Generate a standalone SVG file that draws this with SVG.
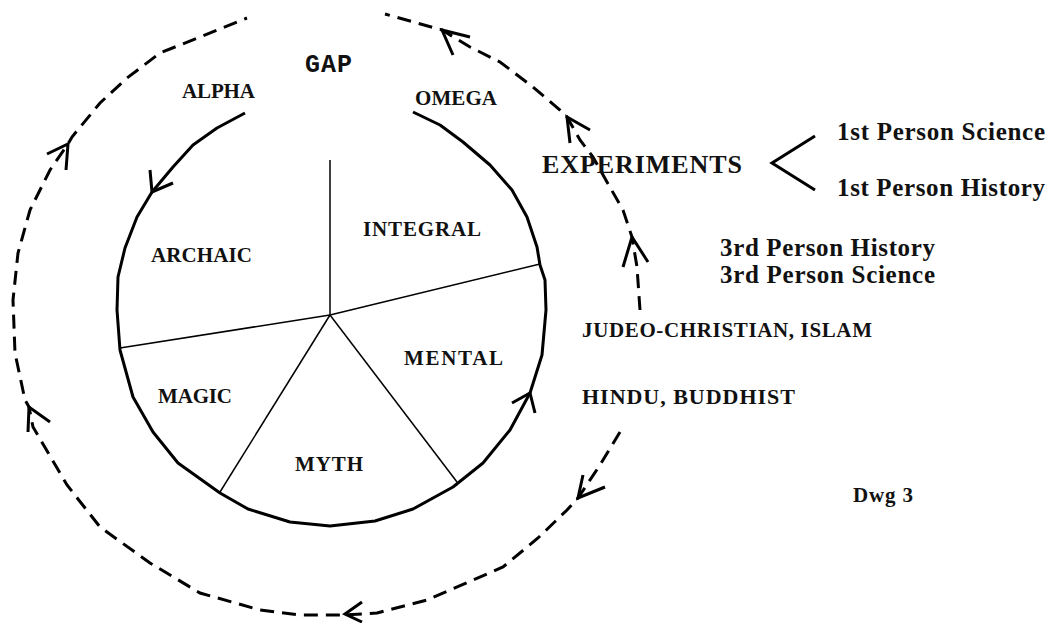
<svg xmlns="http://www.w3.org/2000/svg" width="1050" height="623" viewBox="0 0 1050 623">
<style>
.lbl{font-family:"Liberation Serif","Times New Roman",serif;font-weight:bold;fill:#111;}
.gap{font-family:"Liberation Mono","Courier New",monospace;font-weight:bold;fill:#111;}
.solid{fill:none;stroke:#000;stroke-width:3;stroke-linejoin:round;}
.dash{fill:none;stroke:#000;stroke-width:3;stroke-dasharray:14 8;}
.spoke{fill:none;stroke:#000;stroke-width:1.5;}
.head{fill:none;stroke:#000;stroke-width:3;stroke-linecap:butt;}
</style>
<rect width="1050" height="623" fill="#fff"/>
<g id="connectors">
  <polyline id="inner-cycle" class="solid" points="245,113 217,128 193,145 173,167 152,192 137,217 125,248 118,277 117,310 120,350 133,397 153,432 178,463 220,493 248,509 290,522 330,526 375,521 413,509 453,487 483,463 510,430 530,393 542,355 546,310 545,280 540,265 537,247 527,217 512,190 490,165 463,142 440,125 413,112"/>
  <polyline class="head" points="150,170 152,192 173,183"/>
  <polyline class="head" points="512,403 530,393 535,413"/>
  <polyline id="outer-left" class="dash" points="620,432 600,465 578,498 567,510 538,538 503,567 473,580 427,600 377,613 345,615 300,615 260,610 200,593 150,563 100,527 67,485 33,427 29,407 25,400 15,353 13,300 18,253 30,210 50,170 68,144 72,137 100,103 127,78 160,53 200,37 247,18"/>
  <polyline class="head" points="583,475 578,498 605,487"/>
  <polyline class="head" points="362,602 345,614 362,622"/>
  <polyline class="head" points="28,432 29,407 50,422"/>
  <polyline class="head" points="47,154 68,144 66,170"/>
  <polyline id="outer-right" class="dash" points="640,310 637,267 632,237 623,210 607,182 593,157 580,140 567,117 560,110 533,87 500,62 470,47 442,30 385,14"/>
  <polyline class="head" points="623,267 632,237 648,262"/>
  <polyline class="head" points="570,143 567,117 590,130"/>
  <polyline class="head" points="453,55 442,30 470,37"/>
  <polyline id="experiments-branch" class="head" points="815,136 772,163 815,190"/>
</g>
<g id="spokes">
  <line class="spoke" x1="330" y1="315" x2="330" y2="160"/>
  <line class="spoke" x1="330" y1="315" x2="540" y2="264"/>
  <line class="spoke" x1="330" y1="315" x2="120" y2="348"/>
  <line class="spoke" x1="330" y1="315" x2="220" y2="492"/>
  <line class="spoke" x1="330" y1="315" x2="457" y2="482"/>
</g>
<g id="gap"><text class="gap" x="305" y="72" font-size="25" textLength="47">GAP</text></g>
<g id="alpha"><text class="lbl" x="182" y="98" font-size="21" textLength="73">ALPHA</text></g>
<g id="omega"><text class="lbl" x="415" y="105" font-size="21" textLength="82">OMEGA</text></g>
<g id="integral"><text class="lbl" x="363" y="236" font-size="21" textLength="118">INTEGRAL</text></g>
<g id="archaic"><text class="lbl" x="151" y="262" font-size="21" textLength="101">ARCHAIC</text></g>
<g id="magic"><text class="lbl" x="158" y="403" font-size="21" textLength="74">MAGIC</text></g>
<g id="myth"><text class="lbl" x="295" y="471" font-size="21" textLength="68">MYTH</text></g>
<g id="mental"><text class="lbl" x="404" y="365" font-size="21" textLength="99">MENTAL</text></g>
<g id="experiments"><text class="lbl" x="542" y="173" font-size="26" textLength="200">EXPERIMENTS</text></g>
<g id="first-person">
  <text class="lbl" x="837" y="140" font-size="25" textLength="208">1st Person Science</text>
  <text class="lbl" x="837" y="196" font-size="25" textLength="208">1st Person History</text>
</g>
<g id="third-person">
  <text class="lbl" x="720" y="256" font-size="25" textLength="215">3rd Person History</text>
  <text class="lbl" x="720" y="283" font-size="25" textLength="215">3rd Person Science</text>
</g>
<g id="judeo"><text class="lbl" x="582" y="337" font-size="21" textLength="290">JUDEO-CHRISTIAN, ISLAM</text></g>
<g id="hindu"><text class="lbl" x="582" y="404" font-size="22" textLength="213">HINDU, BUDDHIST</text></g>
<g id="dwg"><text class="lbl" x="853" y="502" font-size="21" textLength="60">Dwg 3</text></g>
</svg>
